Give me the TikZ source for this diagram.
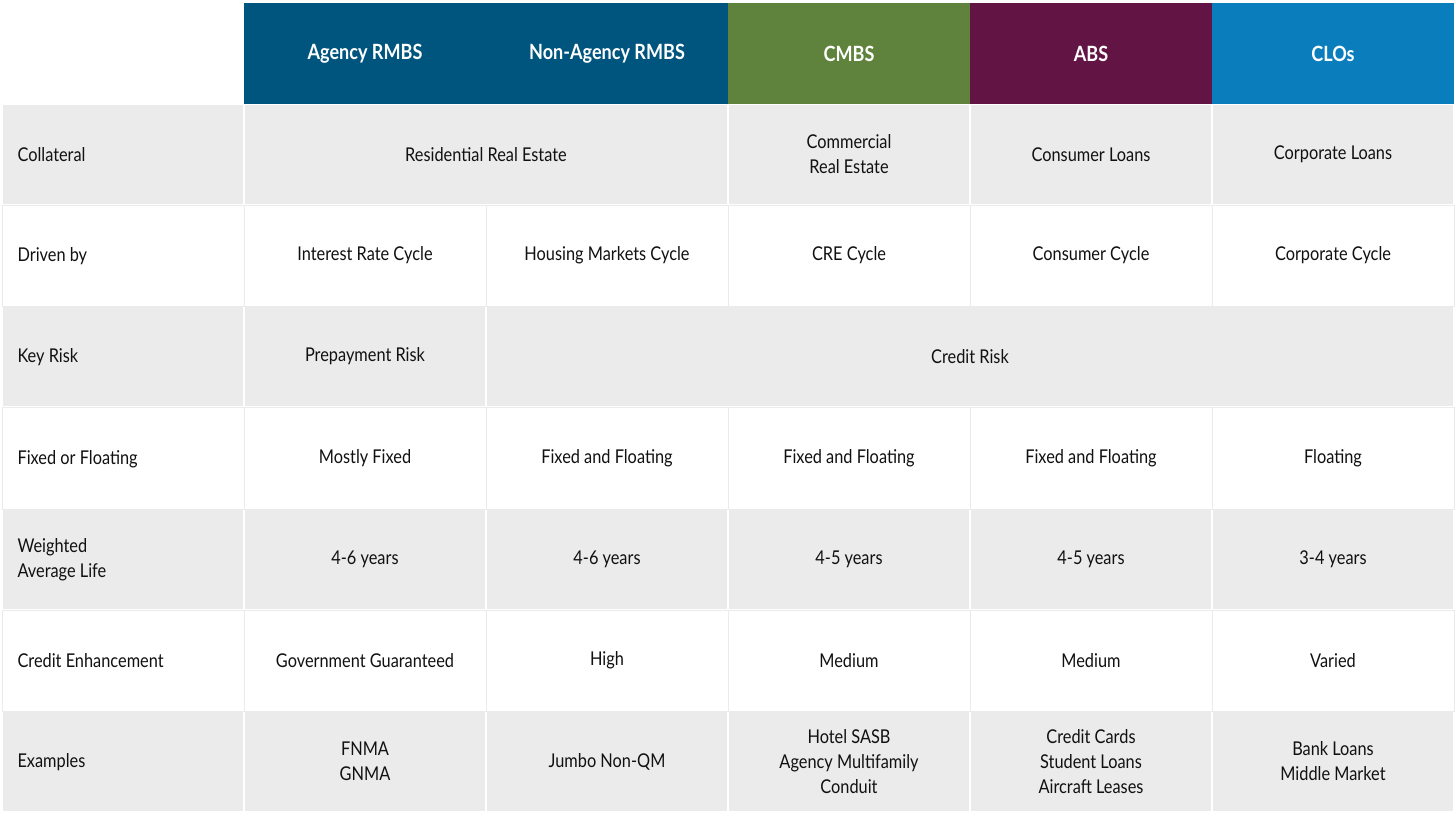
\documentclass[tikz,border=0pt]{standalone}
\usepackage{fontspec}
\setmainfont[FakeStretch=0.86]{Lato}
\definecolor{hdblue}{HTML}{00557F}
\definecolor{hdgreen}{HTML}{5F833C}
\definecolor{hdpurple}{HTML}{621544}
\definecolor{hdlight}{HTML}{0A7EBD}
\definecolor{cellgray}{HTML}{EBEBEB}
\definecolor{txt}{HTML}{111111}
\tikzset{
 cellbox/.style={inner sep=0pt,outer sep=0pt,text=txt,font=\fontsize{19}{25}\selectfont,align=center},
 hdtext/.style={text=white,font=\bfseries\fontsize{21}{25}\selectfont},
 lbltext/.style={text=txt,font=\fontsize{19}{25}\selectfont,align=left,anchor=west}
}
\newcommand{\tcell}[6]{%
 \fill[#5] (#1+1,#2+1) rectangle (#3-1,#4-1);
 \node[cellbox] (c#1x#2) at ({(#1+#3)/2},{(#2+#4)/2}) {#6};}
\begin{document}
\begin{tikzpicture}[x=1pt,y=-1pt]
\useasboundingbox (0,0) rectangle (1456,819);
\fill[white] (0,0) rectangle (1456,819);
% header
\fill[hdblue] (244,3) rectangle (728,104);
\fill[hdgreen] (728,3) rectangle (970,104);
\fill[hdpurple] (970,3) rectangle (1212,104);
\fill[hdlight] (1212,3) rectangle (1454,104);
\node[hdtext] (h1) at (365,54) {Agency RMBS};
\node[hdtext] (h2) at (607,54) {Non-Agency RMBS};
\node[hdtext] (h3) at (849,54) {CMBS};
\node[hdtext] (h4) at (1091,54) {ABS};
\node[hdtext] (h5) at (1333,54) {CLOs};
% row frames for white rows
\foreach \ya/\yb in {205/306,407/509,610/711}{
 \draw[cellgray,line width=1pt] (2,\ya) rectangle (1454,\yb);
 \foreach \x in {244,486,728,970,1212} \draw[cellgray,line width=1pt] (\x,\ya) -- (\x,\yb);}
% Collateral
\tcell{2}{104}{244}{205}{cellgray}{}
\node[lbltext] (l1) at (14,155) {Collateral};
\tcell{244}{104}{728}{205}{cellgray}{Residential Real Estate}
\tcell{728}{104}{970}{205}{cellgray}{Commercial\\Real Estate}
\tcell{970}{104}{1212}{205}{cellgray}{Consumer Loans}
\tcell{1212}{104}{1454}{205}{cellgray}{Corporate Loans}
% Driven by
\node[lbltext] (l2) at (14,256) {Driven by};
\tcell{244}{205}{486}{306}{white}{Interest Rate Cycle}
\tcell{486}{205}{728}{306}{white}{Housing Markets Cycle}
\tcell{728}{205}{970}{306}{white}{CRE Cycle}
\tcell{970}{205}{1212}{306}{white}{Consumer Cycle}
\tcell{1212}{205}{1454}{306}{white}{Corporate Cycle}
% Key risk
\tcell{2}{306}{244}{407}{cellgray}{}
\node[lbltext] (l3) at (14,357) {Key Risk};
\tcell{244}{306}{486}{407}{cellgray}{Prepayment Risk}
\tcell{486}{306}{1454}{407}{cellgray}{Credit Risk}
% Fixed
\node[lbltext] (l4) at (14,459) {Fixed or Floating};
\tcell{244}{407}{486}{509}{white}{Mostly Fixed}
\tcell{486}{407}{728}{509}{white}{Fixed and Floating}
\tcell{728}{407}{970}{509}{white}{Fixed and Floating}
\tcell{970}{407}{1212}{509}{white}{Fixed and Floating}
\tcell{1212}{407}{1454}{509}{white}{Floating}
% WAL
\tcell{2}{509}{244}{610}{cellgray}{}
\node[lbltext] (l5) at (14,560) {Weighted\\Average Life};
\tcell{244}{509}{486}{610}{cellgray}{4-6 years}
\tcell{486}{509}{728}{610}{cellgray}{4-6 years}
\tcell{728}{509}{970}{610}{cellgray}{4-5 years}
\tcell{970}{509}{1212}{610}{cellgray}{4-5 years}
\tcell{1212}{509}{1454}{610}{cellgray}{3-4 years}
% CE
\node[lbltext] (l6) at (14,661) {Credit Enhancement};
\tcell{244}{610}{486}{711}{white}{Government Guaranteed}
\tcell{486}{610}{728}{711}{white}{High}
\tcell{728}{610}{970}{711}{white}{Medium}
\tcell{970}{610}{1212}{711}{white}{Medium}
\tcell{1212}{610}{1454}{711}{white}{Varied}
% Examples
\tcell{2}{711}{244}{812}{cellgray}{}
\node[lbltext] (l7) at (14,762) {Examples};
\tcell{244}{711}{486}{812}{cellgray}{FNMA\\GNMA}
\tcell{486}{711}{728}{812}{cellgray}{Jumbo Non-QM}
\tcell{728}{711}{970}{812}{cellgray}{Hotel SASB\\Agency Multifamily\\Conduit}
\tcell{970}{711}{1212}{812}{cellgray}{Credit Cards\\Student Loans\\Aircraft Leases}
\tcell{1212}{711}{1454}{812}{cellgray}{Bank Loans\\Middle Market}
\end{tikzpicture}
\end{document}
